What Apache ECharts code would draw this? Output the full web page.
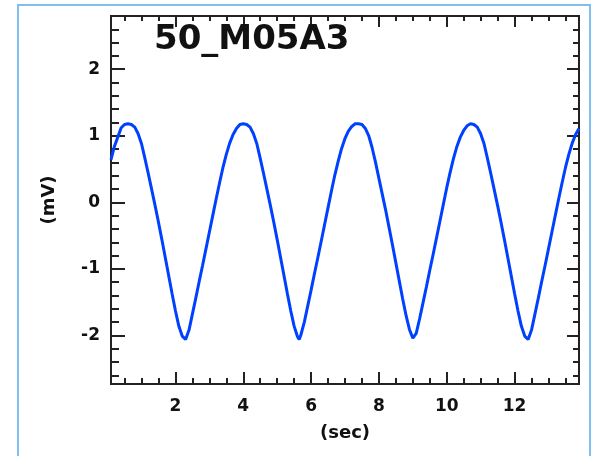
<!DOCTYPE html>
<html>
<head>
<meta charset="utf-8">
<script src="https://cdn.jsdelivr.net/npm/echarts@6/dist/echarts.min.js"></script>
<style>
  html, body { margin: 0; padding: 0; background: #fff; }
  #main { width: 593px; height: 456px; }
</style>
</head>
<body>
<div id="main"></div>
<script>
var times = [0.1,0.2,0.3,0.4,0.5,0.6,0.7,0.8,0.9,1.0,1.1,1.2,1.3,1.4,1.5,1.6,1.7,1.8,1.9,2.0,
	2.1,2.2,2.3,2.4,2.5,2.6,2.7,2.8,2.9,3.0,3.1,3.2,3.3,3.4,3.5,3.6,3.7,3.8,3.9,4.0,
	4.1,4.2,4.3,4.4,4.5,4.6,4.7,4.8,4.9,5.0,5.1,5.2,5.3,5.4,5.5,5.6,5.65,5.7,5.8,5.9,6.0,
	6.1,6.2,6.3,6.4,6.5,6.6,6.7,6.8,6.9,7.0,7.1,7.2,7.3,7.4,7.5,7.6,7.7,7.8,7.9,8.0,
	8.1,8.2,8.3,8.4,8.5,8.6,8.7,8.8,8.9,9.0,9.03,9.1,9.2,9.3,9.4,9.5,9.6,9.7,9.8,9.9,10.0,
	10.1,10.2,10.3,10.4,10.5,10.6,10.7,10.8,10.9,11.0,11.1,11.2,11.3,11.4,11.5,11.6,11.7,11.8,11.9,12.0,
	12.1,12.2,12.3,12.4,12.5,12.6,12.7,12.8,12.9,13.0,13.1,13.2,13.3,13.4,13.5,13.6,13.7,13.8,13.9];

var mv = [0.64,0.84,0.98,1.12,1.17,1.18,1.17,1.13,1.03,0.88,0.66,0.43,0.19,-0.05,-0.30,-0.56,-0.83,-1.10,-1.37,-1.63,
	-1.86,-2.01,-2.06,-1.92,-1.68,-1.44,-1.19,-0.95,-0.70,-0.45,-0.20,0.05,0.29,0.52,0.72,0.89,1.02,1.11,1.17,1.18,
	1.17,1.13,1.03,0.88,0.66,0.43,0.19,-0.05,-0.30,-0.56,-0.83,-1.10,-1.37,-1.63,-1.86,-2.02,-2.06,-1.99,-1.80,-1.56,-1.32,
	-1.07,-0.83,-0.58,-0.33,-0.08,0.17,0.41,0.62,0.81,0.96,1.07,1.14,1.18,1.18,1.17,1.11,1.00,0.82,0.60,0.36,
	0.12,-0.12,-0.38,-0.64,-0.91,-1.18,-1.45,-1.70,-1.91,-2.04,-2.06,-1.97,-1.75,-1.51,-1.27,-1.02,-0.78,-0.53,-0.28,-0.03,0.22,
	0.45,0.66,0.84,0.98,1.08,1.15,1.18,1.17,1.13,1.03,0.88,0.66,0.43,0.19,-0.05,-0.30,-0.56,-0.83,-1.10,-1.37,
	-1.63,-1.86,-2.01,-2.06,-1.92,-1.68,-1.44,-1.19,-0.95,-0.70,-0.45,-0.20,0.05,0.29,0.52,0.72,0.89,1.02,1.11];

var xMajor = [2, 4, 6, 8, 10, 12];
var xMinor = [0.5,1,1.5,2.5,3,3.5,4.5,5,5.5,6.5,7,7.5,8.5,9,9.5,10.5,11,11.5,12.5,13,13.5];
var yMajor = [-2, -1, 0, 1, 2];
var yMinor = [-2.6,-2.4,-2.2,-1.8,-1.6,-1.4,-1.2,-0.8,-0.6,-0.4,-0.2,0.2,0.4,0.6,0.8,
	1.2,1.4,1.6,1.8,2.2,2.4,2.6];

var data = times.map(function (t, i) { return [t, mv[i]]; });

var myChart = echarts.init(document.getElementById('main'));

var font = 'DejaVu Sans';
var tickColor = '#222';

function xAx(pos, ticks, len, labels) {
	return {
		type: 'value', position: pos, min: 0.1, max: 13.9,
		axisLine: { show: false, onZero: false },
		splitLine: { show: false },
		axisTick: { show: true, inside: true, length: len, customValues: ticks,
			lineStyle: { color: tickColor, width: 2 } },
		axisLabel: labels ? { show: true, customValues: ticks, margin: 14, color: '#111',
			fontFamily: font, fontWeight: 'bold', fontSize: 17 } : { show: false }
	};
}
function yAx(pos, ticks, len, labels) {
	return {
		type: 'value', position: pos, min: -2.73, max: 2.8,
		axisLine: { show: false, onZero: false },
		splitLine: { show: false },
		axisTick: { show: true, inside: true, length: len, customValues: ticks,
			lineStyle: { color: tickColor, width: 2 } },
		axisLabel: labels ? { show: true, customValues: ticks, margin: 11, color: '#111',
			fontFamily: font, fontWeight: 'bold', fontSize: 17 } : { show: false }
	};
}

var xMain = xAx('bottom', xMajor, 12, true);
xMain.name = '(sec)';
xMain.nameLocation = 'middle';
xMain.nameGap = 40;
xMain.nameTextStyle = { color: '#111', fontFamily: font, fontWeight: 'bold', fontSize: 18 };

var yMain = yAx('left', yMajor, 14, true);
yMain.name = '(mV)';
yMain.nameLocation = 'middle';
yMain.nameGap = 53;
yMain.nameTextStyle = { color: '#111', fontFamily: font, fontWeight: 'bold', fontSize: 18 };

option = {
	backgroundColor: '#fff',
	animation: false,
	title: {
		text: '50_M05A3',
		left: 149,
		top: 18,
		textStyle: { color: '#111', fontFamily: font, fontWeight: 'bold', fontSize: 34 }
	},
	graphic: [{
		type: 'rect',
		shape: { x: 18, y: 5, width: 572, height: 470 },
		style: { fill: 'none', stroke: '#80c0f0', lineWidth: 2 },
		silent: true
	}],
	grid: {
		left: 111, right: 14, top: 16, bottom: 72,
		show: true, borderColor: '#222', borderWidth: 2,
		containLabel: false
	},
	xAxis: [
		xMain,
		xAx('bottom', xMinor, 6, false),
		xAx('top', xMajor, 11, false),
		xAx('top', xMinor, 5, false)
	],
	yAxis: [
		yMain,
		yAx('left', yMinor, 8, false),
		yAx('right', yMajor, 12, false),
		yAx('right', yMinor, 6, false)
	],
	series: [{
		type: 'line',
		xAxisIndex: 0,
		yAxisIndex: 0,
		data: data,
		showSymbol: false,
		lineStyle: { color: '#0040ff', width: 3 }
	}]
};

myChart.setOption(option);
</script>
</body>
</html>
